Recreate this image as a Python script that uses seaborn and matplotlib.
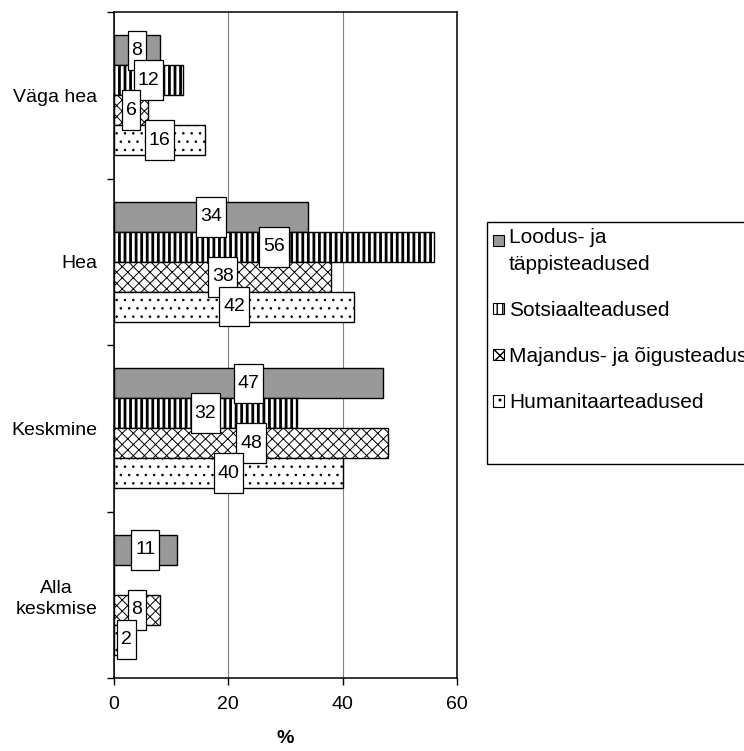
import matplotlib
matplotlib.use('Agg')
import matplotlib.pyplot as plt
from matplotlib.patches import Patch
from matplotlib.path import Path
import seaborn as sns
import pandas as pd

# data
categories = ['Väga hea', 'Hea', 'Keskmine', 'Alla keskmise']
tick_labels = ['Väga hea', 'Hea', 'Keskmine', 'Alla\nkeskmise']
series = ['Loodus- ja\ntäppisteadused', 'Sotsiaalteadused',
          'Majandus- ja õigusteadused', 'Humanitaarteadused']
loodus = [8, 34, 47, 11]
sotsiaal = [12, 56, 32, 0]
majandus = [6, 38, 48, 8]
humanitaar = [16, 42, 40, 2]

face_colors = ['#999999', 'white', 'white', 'white']
hatches = ['', '|||', 'xxx', '..']
hatch_widths = [1.0, 2.0, 0.7, 0.6]

sns.set_theme(style='ticks')
plt.rcParams['font.family'] = ['Liberation Sans', 'DejaVu Sans']
plt.rcParams['hatch.linewidth'] = 1.0
for key in ['text.color', 'axes.labelcolor', 'xtick.color', 'ytick.color',
            'axes.edgecolor']:
    plt.rcParams[key] = 'black'

rows = []
for name, vals in zip(series, [loodus, sotsiaal, majandus, humanitaar]):
    for cat, v in zip(categories, vals):
        rows.append({'category': cat, 'series': name, 'value': v})
df = pd.DataFrame(rows)


def tall_box(x0, y0, width, height, mutation_size):
    # label box: narrow sideways, tall up and down
    px = 0.2 * mutation_size
    py = 0.58 * mutation_size
    verts = [(x0 - px, y0 - py), (x0 + width + px, y0 - py),
             (x0 + width + px, y0 + height + py), (x0 - px, y0 + height + py),
             (x0 - px, y0 - py)]
    return Path(verts, closed=True)


fig = plt.figure(figsize=(7.44, 7.51), dpi=100)
ax = fig.add_axes([114 / 744, 1 - 678 / 751, 343 / 744, 666 / 751])

sns.barplot(data=df, x='value', y='category', hue='series', orient='h',
            order=categories, hue_order=series, palette=face_colors,
            saturation=1, width=0.72, edgecolor='black', linewidth=1,
            legend=False, ax=ax)

for cont, h, lw in zip(ax.containers, hatches, hatch_widths):
    for bar in cont:
        bar.set_hatch(h)
        if hasattr(bar, 'set_hatch_linewidth'):
            bar.set_hatch_linewidth(lw)

labels = []
for cont in ax.containers:
    for bar in cont:
        w = bar.get_width()
        if w <= 0:
            continue
        yc = bar.get_y() + bar.get_height() / 2
        t = ax.text(w / 2, yc, f'{w:.0f}', ha='center', va='center',
                    fontsize=14, zorder=5,
                    bbox=dict(boxstyle=tall_box, facecolor='white',
                              edgecolor='black', linewidth=0.9))
        labels.append(t)

ax.set_xlim(0, 60)
ax.set_xticks([0, 20, 40, 60])
ax.set_ylim(3.5, -0.5)
ax.set_yticks([0, 1, 2, 3], tick_labels)
ax.set_yticks([-0.5, 0.5, 1.5, 2.5, 3.5], minor=True)
for lbl in ax.get_yticklabels():
    lbl.set_multialignment('center')
    lbl.set_linespacing(1.3)

ax.tick_params(axis='y', which='major', length=0, pad=12, labelsize=14)
ax.tick_params(axis='y', which='minor', length=5, width=1, direction='out')
ax.tick_params(axis='x', length=5, width=1, direction='out', pad=8,
               labelsize=14)

ax.xaxis.grid(True, color='#808080', linewidth=0.8)
ax.set_axisbelow(True)
for sp in ax.spines.values():
    sp.set_visible(True)
    sp.set_linewidth(1.1)

ax.set_ylabel('')
ax.set_xlabel('%', fontsize=14, fontweight='bold', labelpad=12)

handles = []
for s, fc, h, lw in zip(series, face_colors, hatches, hatch_widths):
    p = Patch(facecolor=fc, edgecolor='black', hatch=h, linewidth=0.8, label=s)
    if hasattr(p, 'set_hatch_linewidth'):
        p.set_hatch_linewidth(lw)
    handles.append(p)
# blank row so the legend box runs as far down as in the original
handles.append(Patch(facecolor='none', edgecolor='none', label=' '))

leg = fig.legend(handles=handles, loc='upper left',
                 bbox_to_anchor=(487 / 744, 1 - 222 / 751),
                 frameon=True, fancybox=False, edgecolor='black',
                 framealpha=1, fontsize=15, handlelength=0.5,
                 handleheight=0.5, handletextpad=0.25, labelspacing=1.3,
                 borderpad=0.3, borderaxespad=0)
leg.get_frame().set_linewidth(1.0)
leg.get_texts()[0].set_linespacing(1.5)

# keep small labels clear of the axis, and put the first legend
# handle beside the first line of its two-line label
fig.canvas.draw()
renderer = fig.canvas.get_renderer()
ax_left = ax.get_window_extent(renderer).x0
for t in labels:
    bb = t.get_bbox_patch().get_window_extent(renderer)
    if bb.x0 < ax_left + 3:
        shift = ax_left + 3 - bb.x0
        x_disp, y_disp = ax.transData.transform(t.get_position())
        t.set_position(ax.transData.inverted().transform((x_disp + shift, y_disp)))

tb = leg.get_texts()[0].get_window_extent(renderer)
h0 = leg.legend_handles[0]
hb = h0.get_window_extent(renderer)
target = tb.y1 - 0.27 * tb.height
dy = target - (hb.y0 + hb.y1) / 2
h0.set_y(h0.get_y() + dy * 72 / fig.dpi)

fig.savefig('out.png', dpi=100)
